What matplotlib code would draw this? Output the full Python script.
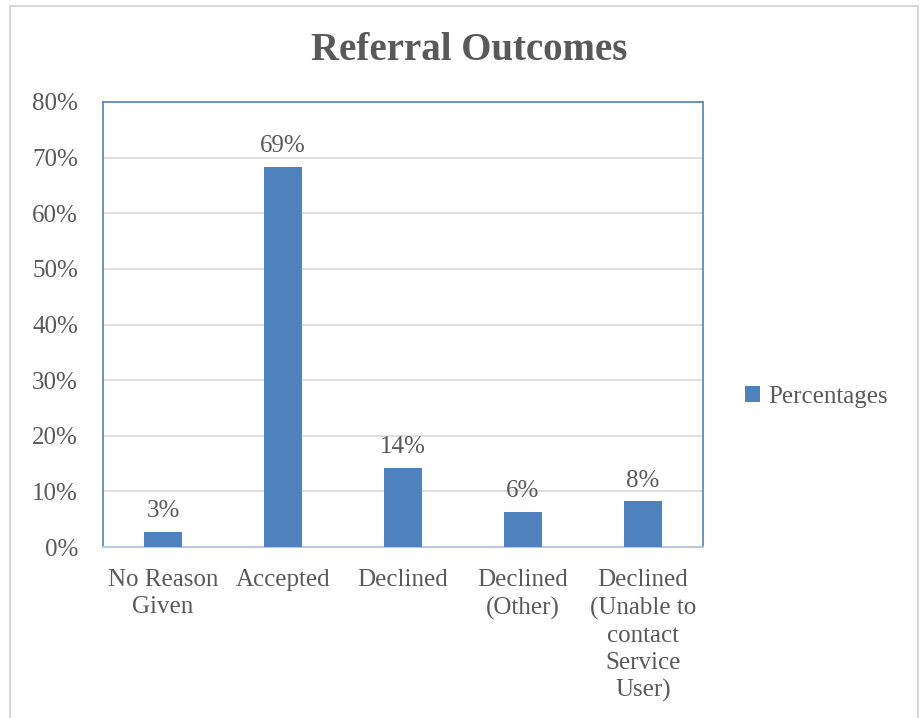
import matplotlib

matplotlib.use("Agg")

import matplotlib.pyplot as plt
from matplotlib.patches import Rectangle

categories = [
    "No Reason\nGiven",
    "Accepted",
    "Declined",
    "Declined\n(Other)",
    "Declined\n(Unable to\ncontact\nService\nUser)",
]
values = [2.7, 68.4, 14.2, 6.3, 8.2]
value_labels = ["3%", "69%", "14%", "6%", "8%"]
y_ticks = [0, 10, 20, 30, 40, 50, 60, 70, 80]
series_name = "Percentages"

BAR_COLOR = "#4f81bd"
TEXT_COLOR = "#595959"
FONT = ["Liberation Serif", "DejaVu Serif"]

plt.rcParams["font.family"] = FONT

fig = plt.figure(figsize=(9.23, 7.18), dpi=100)
ax = fig.add_axes([103 / 923, 171 / 718, 600 / 923, 445 / 718])

# light grey chart border
fig.patches.append(
    Rectangle((10 / 923, -0.05), 908 / 923, 1.05 - 6 / 718,
              transform=fig.transFigure, fill=False,
              edgecolor="#d9d9d9", linewidth=1.5)
)

x = range(len(categories))
bars = ax.bar(x, values, width=0.31, color=BAR_COLOR, zorder=3,
              label=series_name)
for rect, lab in zip(bars, value_labels):
    ax.annotate(lab, (rect.get_x() + rect.get_width() / 2, rect.get_height()),
                xytext=(0, 7), textcoords="offset points",
                ha="center", va="bottom", fontsize=18, color=TEXT_COLOR)

ax.set_xlim(-0.5, len(categories) - 0.5)
ax.set_ylim(0, 80)
ax.set_yticks(y_ticks)
ax.set_yticklabels([f"{t}%" for t in y_ticks])
ax.set_xticks(list(x))
ax.set_xticklabels(categories, linespacing=1.3)
ax.tick_params(axis="both", length=0, labelsize=18, labelcolor=TEXT_COLOR)
ax.tick_params(axis="y", pad=18)
ax.tick_params(axis="x", pad=16)

ax.grid(axis="y", color="#d9d9d9", linewidth=1.2, zorder=0)
for side in ["left", "top", "right"]:
    ax.spines[side].set_color("#4f81bd")
    ax.spines[side].set_linewidth(1.2)
ax.spines["bottom"].set_color("#b9c9df")
ax.spines["bottom"].set_linewidth(1.5)

fig.text(469 / 923, 1 - 50 / 718, "Referral Outcomes", ha="center", va="center",
         fontsize=28, fontweight="bold", color=TEXT_COLOR)

leg = fig.legend(handles=[bars], labels=[series_name], loc="center left",
                 bbox_to_anchor=(722 / 923, 1 - 397 / 718), frameon=False,
                 fontsize=18, handlelength=0.6, handleheight=0.6,
                 handletextpad=0.35, labelcolor=TEXT_COLOR)

fig.savefig("out.png", dpi=100)
